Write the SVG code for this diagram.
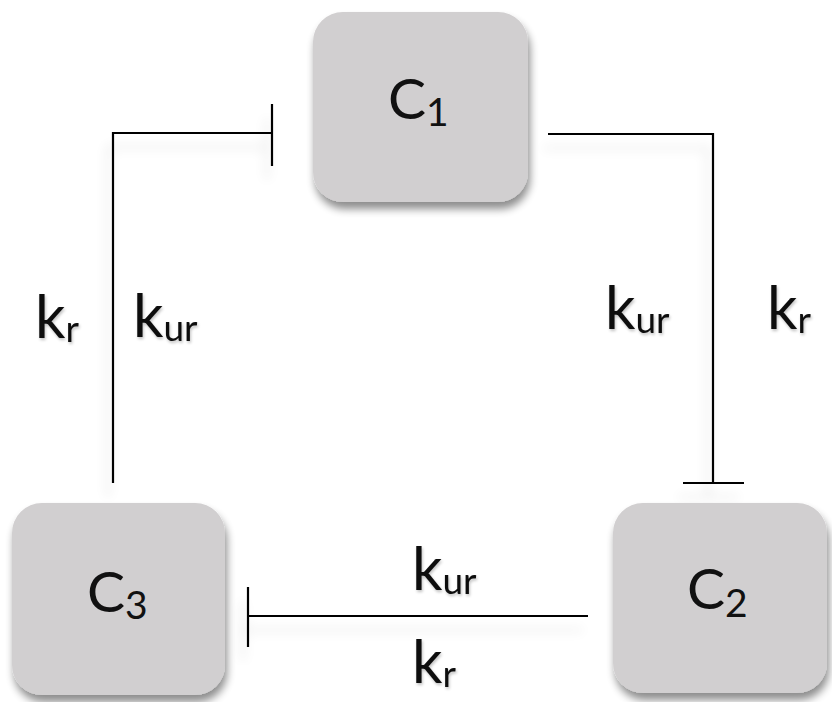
<svg xmlns="http://www.w3.org/2000/svg" width="832" height="702" viewBox="0 0 832 702">
<defs>
<filter id="boxsh" x="-20%" y="-20%" width="140%" height="150%">
<feGaussianBlur in="SourceAlpha" stdDeviation="4"/>
<feOffset dx="2" dy="7" result="b"/>
<feComponentTransfer><feFuncA type="linear" slope="0.45"/></feComponentTransfer>
<feMerge><feMergeNode/><feMergeNode in="SourceGraphic"/></feMerge>
</filter>
<filter id="linesh" x="-30%" y="-30%" width="160%" height="160%">
<feGaussianBlur in="SourceAlpha" stdDeviation="6"/>
<feOffset dx="-5" dy="14"/>
<feComponentTransfer><feFuncA type="linear" slope="0.15"/></feComponentTransfer>
<feMerge><feMergeNode/><feMergeNode in="SourceGraphic"/></feMerge>
</filter>
<filter id="txtsh" x="-20%" y="-20%" width="140%" height="140%">
<feGaussianBlur in="SourceAlpha" stdDeviation="1.5"/>
<feOffset dx="1" dy="2"/>
<feComponentTransfer><feFuncA type="linear" slope="0.25"/></feComponentTransfer>
<feMerge><feMergeNode/><feMergeNode in="SourceGraphic"/></feMerge>
</filter>
</defs>
<style>
.box{fill:#d1cfd0;filter:url(#boxsh);}
.c{font-family:Lato,"Liberation Sans",sans-serif;font-size:57px;fill:#111;}
.csub{font-size:39px;}
.k{font-family:Lato,"Liberation Sans",sans-serif;font-size:60px;fill:#111;filter:url(#txtsh);}
.ksub{font-size:37px;}
.ln{fill:none;stroke:#000;stroke-width:2.2;filter:url(#linesh);}
</style>
<rect width="832" height="702" fill="#fff"/>
<g id="connectors">
<g id="c3-c1">
<path class="ln" d="M113,483 V133 H272 M272,104 V166"/>
</g>
<g id="c1-c2">
<path class="ln" d="M548,134 H713 V483 M683,483 H744"/>
</g>
<g id="c2-c3">
<path class="ln" d="M588,616 H248 M248,587 V647"/>
</g>
</g>
<g id="labels">
<text class="k" x="35" y="338">k<tspan class="ksub" dy="4">r</tspan></text>
<text class="k" x="133" y="337">k<tspan class="ksub" dy="4">ur</tspan></text>
<text class="k" x="605" y="329">k<tspan class="ksub" dy="4">ur</tspan></text>
<text class="k" x="767" y="329">k<tspan class="ksub" dy="4">r</tspan></text>
<text class="k" x="412" y="590">k<tspan class="ksub" dy="4">ur</tspan></text>
<text class="k" x="412" y="683">k<tspan class="ksub" dy="4">r</tspan></text>
</g>
<g id="C1">
<rect class="box" x="313" y="12" width="215" height="190" rx="30"/>
<text class="c" x="388" y="119">C<tspan class="csub" dy="7">1</tspan></text>
</g>
<g id="C2">
<rect class="box" x="613" y="503" width="214" height="190" rx="30"/>
<text class="c" x="687" y="609">C<tspan class="csub" dy="8">2</tspan></text>
</g>
<g id="C3">
<rect class="box" x="12" y="503" width="213" height="192" rx="30"/>
<text class="c" x="87" y="612">C<tspan class="csub" dy="7">3</tspan></text>
</g>
</svg>
